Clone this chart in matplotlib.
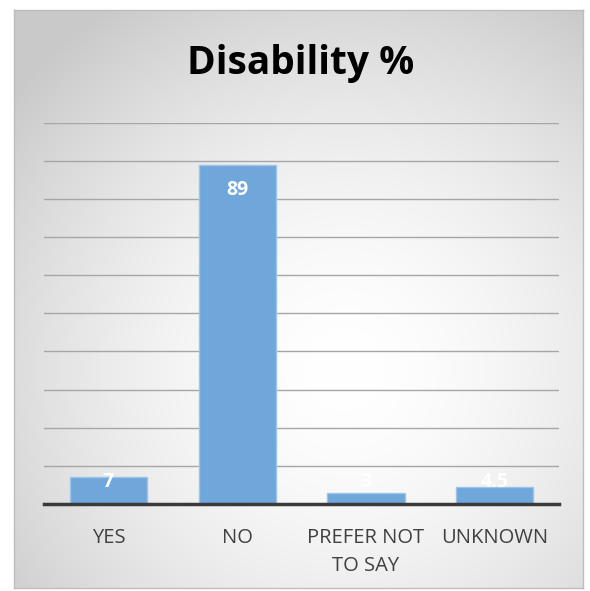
import numpy as np
import matplotlib
matplotlib.use("Agg")
from matplotlib import pyplot as plt

categories = ["YES", "NO", "PREFER NOT\nTO SAY", "UNKNOWN"]
values = [7, 89, 3, 4.5]
value_labels = ["7", "89", "3", "4.5"]

plt.rcParams['font.family'] = ['Open Sans', 'DejaVu Sans']


def main():
    fig = plt.figure(figsize=(5.9, 5.91), dpi=100)
    fig.patch.set_facecolor('white')

    # chart area with radial gradient
    bg = fig.add_axes([0.0237, 0.005, 0.9644, 0.978], zorder=0)
    ny, nx = 300, 300
    yy, xx = np.mgrid[0:ny, 0:nx]
    cx, cy = 0.58 * nx, 0.62 * ny
    r = np.sqrt(((xx - cx) / nx) ** 2 + ((yy - cy) / ny) ** 2)
    r = np.clip(r / 0.75, 0, 1)
    shade = 1.0 - 0.21 * r ** 1.7
    img = np.dstack([shade, shade, shade])
    bg.imshow(img, aspect='auto', extent=[0, 1, 0, 1], interpolation='bilinear',
              origin='upper')
    bg.set_xlim(0, 1)
    bg.set_ylim(0, 1)
    bg.set_xticks([])
    bg.set_yticks([])
    for s in bg.spines.values():
        s.set_color('#bdbdbd')
        s.set_linewidth(1.0)

    ax = fig.add_axes([0.0746, 0.1472, 0.8729, 0.6452], zorder=1)
    ax.patch.set_alpha(0)
    x = np.arange(len(categories))
    ax.bar(x, values, width=0.6, color='#6fa7db', edgecolor='#9cc4ea',
           linewidth=1.0, zorder=3)
    ax.set_xlim(-0.5, len(categories) - 0.5)
    ax.set_ylim(0, 100)
    ax.set_yticks(np.arange(10, 101, 10))
    ax.yaxis.grid(True, color='#a6a6a6', linewidth=1.0, zorder=1)
    ax.tick_params(axis='y', left=False, labelleft=False)
    ax.tick_params(axis='x', length=0, pad=17, labelsize=14.5,
                   colors='#404040')
    ax.set_xticks(x)
    ax.set_xticklabels(categories, linespacing=1.55, va='top')
    for name in ['top', 'right', 'left']:
        ax.spines[name].set_visible(False)
    ax.spines['bottom'].set_color('#3a3a3a')
    ax.spines['bottom'].set_linewidth(2.5)
    ax.spines['bottom'].set_zorder(4)

    for xi, v, lab in zip(x, values, value_labels):
        ypos = max(v - 6.6, 5.8)
        ax.text(xi, ypos, lab, ha='center', va='center', color='white',
                fontsize=14, fontweight='bold', zorder=5)

    fig.text(0.51, 0.893, "Disability %", ha='center', va='center',
             fontsize=28, fontweight='bold', color='black')

    fig.savefig("out.png", dpi=100)


if __name__ == "__main__":
    main()
